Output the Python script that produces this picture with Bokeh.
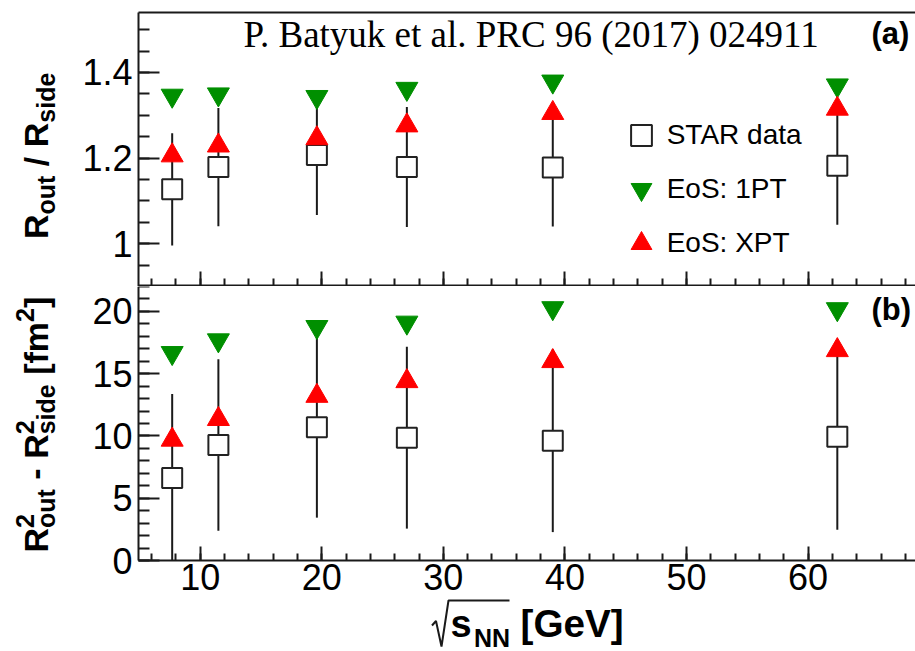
import numpy as np
from bokeh.plotting import figure
from bokeh.models import (Range1d, LinearAxis, SingleIntervalTicker, FixedTicker, Label,
                          Legend, LegendItem, PolyAnnotation, ColumnDataSource,
                          CustomJSTickFormatter)
from bokeh.layouts import column
from bokeh.embed import file_html
from bokeh.resources import INLINE

# ---------------- data ----------------
energy = [7.7, 11.5, 19.6, 27.0, 39.0, 62.4]          # sqrt(s_NN) [GeV]

# panel (a): R_out / R_side
ratio_star = [1.127, 1.179, 1.207, 1.179, 1.178, 1.182]
ratio_star_err = [0.131, 0.138, 0.140, 0.140, 0.138, 0.138]
ratio_1pt = [1.346, 1.349, 1.343, 1.362, 1.379, 1.370]
ratio_xpt = [1.206, 1.229, 1.246, 1.276, 1.305, 1.315]

# panel (b): R_out^2 - R_side^2 [fm^2]
diff_star = [6.62, 9.27, 10.69, 9.86, 9.62, 9.93]
diff_star_err = [6.75, 6.88, 7.25, 7.30, 7.34, 7.46]
diff_1pt = [16.67, 17.69, 18.76, 19.11, 20.27, 20.19]
diff_xpt = [9.69, 11.35, 13.21, 14.39, 16.00, 16.88]

legend_labels = ["STAR data", "EoS: 1PT", "EoS: XPT"]
citation = "P. Batyuk et al. PRC 96 (2017) 024911"

# axis extents
X_AXIS = (4.93, 68.83)
Y1_AXIS = (0.9, 1.54)
Y2_AXIS = (0.0, 22.0)

# ---------------- style / geometry ----------------
SANS = "Liberation Sans"
SERIF = "Liberation Serif"
GREEN = "#008f00"
RED = "#ff0000"
INK = "#1a1a1a"

PAGE_W = 915
AX_LEFT = 138.0                 # page x of the y axes
P1_H, P2_H = 286, 365           # canvas heights of the two panels
P1_TOP_AX = 12.0                # page y of top of panel (a)
P2_TOP = 286.0                  # page y where panel (b) canvas starts
XS = (PAGE_W - AX_LEFT) / (X_AXIS[1] - X_AXIS[0])
Y1S = (P1_H - P1_TOP_AX) / (Y1_AXIS[1] - Y1_AXIS[0])
Y2S = 274.0 / (Y2_AXIS[1] - Y2_AXIS[0])
BL = 0.34                       # label anchor -> alphabetic baseline offset (em)

def xd(px):
    return X_AXIS[0] + (px - AX_LEFT) / XS
def y1d(py):
    return Y1_AXIS[1] - (py - P1_TOP_AX) / Y1S
def y2d(py):
    return Y2_AXIS[1] - (py - P2_TOP) / Y2S

x_range = Range1d(xd(0), xd(PAGE_W))

def make_fig(h, yr):
    p = figure(frame_width=PAGE_W, frame_height=h, x_range=x_range, y_range=Range1d(*yr),
               output_backend="svg", toolbar_location=None,
               x_axis_location=None, y_axis_location=None,
               min_border=0, min_border_left=0, min_border_right=0,
               min_border_top=0, min_border_bottom=0)
    p.outline_line_color = None
    p.background_fill_color = "white"
    p.border_fill_color = "white"
    p.xgrid.grid_line_color = None
    p.ygrid.grid_line_color = None
    return p

def style(ax, tin, mtin, labels=True):
    ax.axis_line_width = 2
    ax.axis_line_color = INK
    ax.major_tick_line_width = 2
    ax.minor_tick_line_width = 2
    ax.major_tick_line_color = INK
    ax.minor_tick_line_color = INK
    ax.major_tick_in = tin
    ax.major_tick_out = 0
    ax.minor_tick_in = mtin
    ax.minor_tick_out = 0
    if labels:
        ax.major_label_text_font = SANS
        ax.major_label_text_font_size = "36px"
        ax.major_label_text_color = "black"
    else:
        ax.major_label_text_font_size = "0px"
        ax.major_label_standoff = 0
        ax.formatter = CustomJSTickFormatter(code="return '';")

p1 = make_fig(P1_H, (y1d(P1_H), y1d(0)))
p2 = make_fig(P2_H, (y2d(P2_TOP + P2_H), y2d(P2_TOP)))

# axes of panel (a)
ya1 = LinearAxis(ticker=SingleIntervalTicker(interval=0.2, num_minor_ticks=4),
                 formatter=CustomJSTickFormatter(code="return (Math.round(tick*10)/10).toString();"),
                 fixed_location=X_AXIS[0], bounds=Y1_AXIS)
style(ya1, 21, 11)
ya1.major_label_standoff = 6
p1.add_layout(ya1, "left")
xa1 = LinearAxis(ticker=SingleIntervalTicker(interval=10, num_minor_ticks=5),
                 fixed_location=y1d(P1_H - 1), bounds=X_AXIS)
style(xa1, 14, 7, labels=False)
p1.add_layout(xa1, "below")
top1 = LinearAxis(ticker=FixedTicker(ticks=[], minor_ticks=[]),
                  fixed_location=Y1_AXIS[1], bounds=X_AXIS)
style(top1, 0, 0, labels=False)
p1.add_layout(top1, "above")

# axes of panel (b)
ya2 = LinearAxis(ticker=SingleIntervalTicker(interval=5, num_minor_ticks=5),
                 fixed_location=X_AXIS[0], bounds=(Y2_AXIS[0], y2d(P2_TOP)))
style(ya2, 21, 11)
ya2.major_label_standoff = 6
p2.add_layout(ya2, "left")
xa2 = LinearAxis(ticker=SingleIntervalTicker(interval=10, num_minor_ticks=5),
                 fixed_location=Y2_AXIS[0], bounds=X_AXIS)
style(xa2, 14, 7)
xa2.major_label_standoff = 3
p2.add_layout(xa2, "below")

# ---------------- data marks ----------------
def draw(p, star, err, m1pt, mxpt, floor=None):
    lo = [s - e for s, e in zip(star, err)]
    if floor is not None:
        lo = [max(v, floor) for v in lo]
    src = ColumnDataSource(dict(
        x=energy, star=star, lo=lo,
        hi=[s + e for s, e in zip(star, err)],
        m1pt=m1pt, mxpt=mxpt))
    p.segment(x0="x", y0="lo", x1="x", y1="hi", source=src, line_width=2, line_color=INK)
    sq = p.scatter("x", "star", source=src, marker="square", size=20,
                   fill_color="white", line_color="#222222", line_width=2)
    g = p.scatter("x", "m1pt", source=src, marker="inverted_triangle", size=22,
                  fill_color=GREEN, line_color=GREEN, line_width=1)
    r = p.scatter("x", "mxpt", source=src, marker="triangle", size=22,
                  fill_color=RED, line_color=RED, line_width=1)
    return sq, g, r

sq1, g1, r1 = draw(p1, ratio_star, ratio_star_err, ratio_1pt, ratio_xpt)
draw(p2, diff_star, diff_star_err, diff_1pt, diff_xpt, floor=Y2_AXIS[0])

legend = Legend(items=[LegendItem(label=legend_labels[0], renderers=[sq1]),
                       LegendItem(label=legend_labels[1], renderers=[g1]),
                       LegendItem(label=legend_labels[2], renderers=[r1])],
                location=(614.7, 15.7), glyph_width=52, glyph_height=54, spacing=0,
                padding=0, margin=0, label_standoff=0,
                label_text_font=SANS, label_text_font_size="28px", label_text_color="black",
                border_line_color=None, background_fill_alpha=0)
p1.add_layout(legend)

# ---------------- texts ----------------
def lab(p, x, y, text, size, font=SANS, bold=False, angle=0.0):
    p.add_layout(Label(x=x, y=y, text=text, text_font=font, text_font_size=f"{size}px",
                       text_font_style="bold" if bold else "normal", text_color="black",
                       text_align="left", text_baseline="alphabetic", angle=angle))

def hlab(p, yconv, px, base_py, text, size, font=SANS, bold=False):
    # horizontal text with its baseline at page y = base_py
    lab(p, xd(px), yconv(base_py - BL * size), text, size, font=font, bold=bold)

hlab(p1, y1d, 243, 46.7, citation, 37, font=SERIF)
hlab(p1, y1d, 871, 44.0, "(a)", 31, bold=True)
hlab(p2, y2d, 871, 320.0, "(b)", 31, bold=True)

# Arial-bold advance widths (em/1000) to chain rotated label pieces
W = {"R": 722, "o": 611, "u": 611, "t": 333, " ": 278, "/": 278, "s": 556, "i": 278,
     "d": 611, "e": 556, "-": 333, "[": 333, "f": 333, "m": 889, "2": 556, "]": 333}
def width(t, size):
    return sum(W[c] for c in t) * size / 1000.0

MAIN, SUB = 34, 25
BASE_X, SUB_X, SUP_X = 47.0, 53.5, 32.5
ROT = np.pi / 2

def chain(p, yconv, start, pieces):
    pos = start
    def put(bx, text, size):
        lab(p, xd(bx - BL * size), yconv(pos), text, size, bold=True, angle=ROT)
    for text, kind in pieces:
        if kind == "space":
            pos -= width(" ", MAIN)
        elif kind == "main":
            put(BASE_X, text, MAIN)
            pos -= width(text, MAIN)
        elif kind == "sub":
            put(SUB_X, text, SUB)
            pos -= width(text, SUB)
        elif kind == "subsup":
            put(SUP_X, "2", SUB)
            put(SUB_X, text, SUB)
            pos -= max(width(text, SUB), width("2", SUB))
        elif kind == "sup":
            put(SUP_X, text, SUB)
            pos -= width(text, SUB)

chain(p1, y1d, 238.5, [("R", "main"), ("out", "sub"), ("", "space"), ("/", "main"), ("", "space"),
                       ("R", "main"), ("side", "sub")])
chain(p2, y2d, 552.0, [("R", "main"), ("out", "subsup"), ("", "space"), ("-", "main"), ("", "space"),
                       ("R", "main"), ("side", "subsup"), ("", "space"), ("[fm", "main"),
                       ("2", "sup"), ("]", "main")])

# x-axis title: sqrt(s_NN) [GeV]
rad_px = [(431.5, 625.0), (435.5, 620.5), (441.0, 646.0), (448.0, 600.0), (509.0, 600.0)]
path = rad_px + rad_px[-2:0:-1]
p2.add_layout(PolyAnnotation(xs=[xd(a) for a, b in path], ys=[y2d(b) for a, b in path],
                             fill_alpha=0, line_color=INK, line_alpha=1.0, line_width=2))
hlab(p2, y2d, 450, 636.0, "s", 38, bold=True)
hlab(p2, y2d, 473.5, 646.0, "NN", 25, bold=True)
hlab(p2, y2d, 520, 636.5, "[GeV]", 38.7, bold=True)

layout = column(p1, p2)
open("out.html", "w").write(file_html(layout, INLINE))
